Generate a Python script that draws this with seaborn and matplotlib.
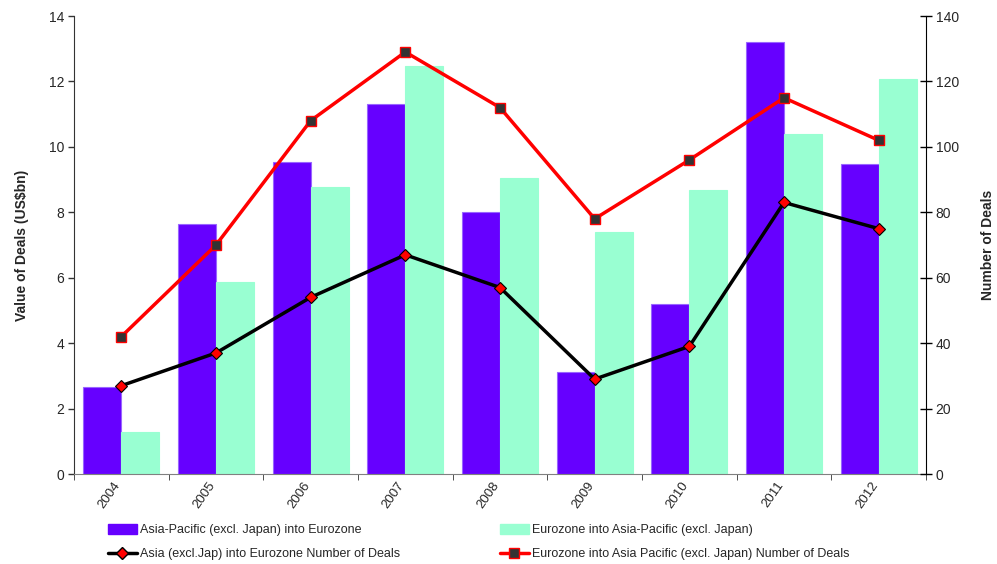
import numpy as np
import pandas as pd
import matplotlib
matplotlib.use("Agg")
import matplotlib.pyplot as plt
import matplotlib.transforms as mtransforms
import seaborn as sns
from matplotlib.patches import Patch
from matplotlib.lines import Line2D

# chart data
years = ["2004", "2005", "2006", "2007", "2008", "2009", "2010", "2011", "2012"]
apac_into_ez = [2.65, 7.64, 9.54, 11.31, 8.01, 3.12, 5.20, 13.2, 9.48]
ez_into_apac = [1.28, 5.87, 8.77, 12.47, 9.05, 7.40, 8.68, 10.39, 12.08]
apac_deals = [27, 37, 54, 67, 57, 29, 39, 83, 75]
ez_deals = [42, 70, 108, 129, 112, 78, 96, 115, 102]

bar_names = ["Asia-Pacific (excl. Japan) into Eurozone",
             "Eurozone into Asia-Pacific (excl. Japan)"]
line_names = ["Asia (excl.Jap) into Eurozone Number of Deals",
              "Eurozone into Asia Pacific (excl. Japan) Number of Deals"]

purple = "#6600FF"
green = "#99FFD2"

bars = pd.DataFrame({
    "year": years * 2,
    "value": apac_into_ez + ez_into_apac,
    "series": [bar_names[0]] * len(years) + [bar_names[1]] * len(years),
})
lines = pd.DataFrame({"year": years, "apac": apac_deals, "ez": ez_deals})

sns.set_style("white")
plt.rcParams["font.family"] = ["Liberation Sans", "DejaVu Sans"]

fig = plt.figure(figsize=(9.97, 5.64), dpi=100)
ax = fig.add_axes([74 / 997, 1 - 474 / 564, (926 - 74) / 997, (474 - 16) / 564])

sns.barplot(data=bars, x="year", y="value", hue="series", order=years,
            palette=[purple, green], width=0.8, saturation=1, legend=False, ax=ax)
n = len(years)
for i, p in enumerate(ax.patches):
    p.set_edgecolor("#9966FF" if i < n else green)
    p.set_linewidth(0.8)

ax.set_xlim(-0.5, n - 0.5)
ax.set_ylim(0, 14)
ax.set_yticks(np.arange(0, 15, 2))
ax.set_xlabel("")
ax.set_ylabel("Value of Deals (US$bn)", fontsize=10, fontweight="bold", labelpad=14)
ax.tick_params(axis="y", direction="out", length=4, width=1, color="#333333",
               labelsize=10, left=True, pad=3)
ax.set_xticks(range(n))
ax.set_xticklabels(years, rotation=55, ha="right", rotation_mode="anchor", fontsize=9.5)
ax.tick_params(axis="x", which="major", length=0, pad=4)
shift = mtransforms.ScaledTranslation(-8 / 100, 0, fig.dpi_scale_trans)
for lab in ax.get_xticklabels():
    lab.set_transform(lab.get_transform() + shift)
ax.set_xticks(np.arange(-0.5, n, 1), minor=True)
ax.tick_params(axis="x", which="minor", direction="out", length=4, color="#333333", bottom=True)
ax.spines["top"].set_visible(False)
ax.spines["right"].set_visible(False)
ax.spines["left"].set_color("#333333")
ax.spines["bottom"].set_color("#808080")

ax2 = ax.twinx()
sns.lineplot(data=lines, x="year", y="ez", color="red", linewidth=2.5, sort=False,
             marker="s", markersize=7.5, markerfacecolor="#333333",
             markeredgecolor="red", markeredgewidth=1, ax=ax2)
sns.lineplot(data=lines, x="year", y="apac", color="black", linewidth=2.5, sort=False,
             marker="D", markersize=6.5, markerfacecolor="red",
             markeredgecolor="black", markeredgewidth=0.8, ax=ax2)
ax2.set_ylim(0, 140)
ax2.set_yticks(np.arange(0, 141, 20))
ax2.set_xlim(-0.5, n - 0.5)
ax2.set_xlabel("")
ax2.set_ylabel("Number of Deals", fontsize=10, fontweight="bold", labelpad=16)
ax2.tick_params(axis="y", direction="inout", length=8, width=1, color="black",
                labelsize=10, right=True, pad=3)
for s in ["top", "left", "bottom"]:
    ax2.spines[s].set_visible(False)
ax2.spines["right"].set_color("black")

# legend in two blocks placed like the reference
h1 = [Patch(facecolor=purple, edgecolor=purple),
      Line2D([], [], color="black", lw=2.5, marker="D", markersize=6,
             markerfacecolor="red", markeredgecolor="black")]
h2 = [Patch(facecolor=green, edgecolor=green),
      Line2D([], [], color="red", lw=2.5, marker="s", markersize=7,
             markerfacecolor="#333333", markeredgecolor="red")]
common = dict(loc="upper left", frameon=False, fontsize=9, borderpad=0,
              handlelength=2.3, handleheight=0.8, handletextpad=0.25, labelspacing=0.95,
              borderaxespad=0)
fig.legend(h1, [bar_names[0], line_names[0]], bbox_to_anchor=(108 / 997, 1 - 524 / 564), **common)
fig.legend(h2, [bar_names[1], line_names[1]], bbox_to_anchor=(500 / 997, 1 - 524 / 564), **common)

plt.savefig("out.png", dpi=100)
